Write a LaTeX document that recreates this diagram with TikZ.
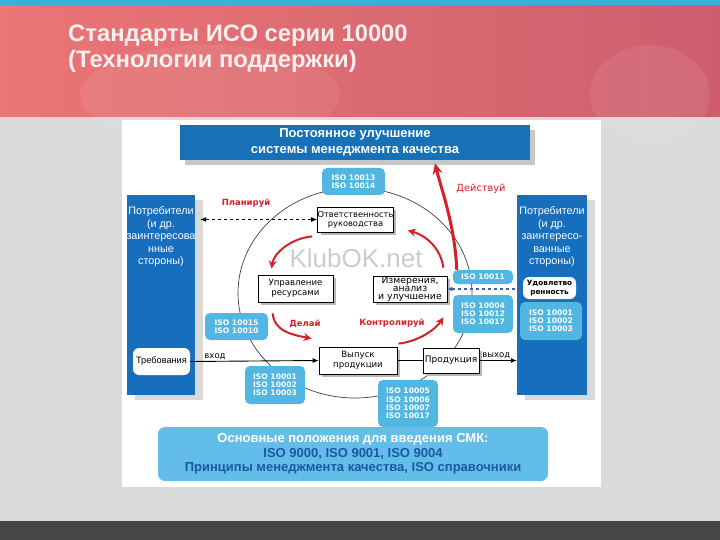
\documentclass[tikz,border=0pt]{standalone}
\usepackage{fontspec}
\setmainfont{Liberation Sans}
\newfontfamily\dvs{DejaVu Sans}
\usetikzlibrary{arrows.meta,shadows}
\definecolor{hdrblue}{RGB}{24,112,182}
\definecolor{panelblue}{RGB}{22,110,188}
\definecolor{isoblue}{RGB}{82,182,226}
\definecolor{botblue}{RGB}{98,190,232}
\definecolor{darkblue}{RGB}{28,88,162}
\definecolor{arrred}{RGB}{212,32,40}
\definecolor{pinkL}{RGB}{234,118,118}
\definecolor{pinkR}{RGB}{206,94,110}
\definecolor{bggray}{RGB}{218,218,218}
\definecolor{cyanstrip}{RGB}{56,176,216}
\definecolor{bandgray}{RGB}{70,70,70}
\definecolor{titlecol}{RGB}{250,238,238}
\definecolor{dashblue}{RGB}{60,100,170}
\begin{document}
\begin{tikzpicture}[x=1pt,y=-1pt,
  wbox/.style={draw=black, line width=0.8pt, fill=white, align=center,
    font=\dvs\fontsize{8.3}{9}\selectfont, inner sep=0pt,
    general shadow={fill=black!28, shadow xshift=3pt, shadow yshift=-3pt}},
  isobox/.style={fill=isoblue, rounded corners=5pt, text=white, align=center,
    font=\dvs\bfseries\fontsize{7.6}{8.2}\selectfont, inner sep=0pt},
  panel/.style={fill=panelblue, inner sep=0pt,
    general shadow={fill=black!15, shadow xshift=8pt, shadow yshift=-5pt}},
  ptext/.style={text=white, align=center, font=\fontsize{10.8}{12.5}\selectfont, inner sep=0pt},
  rlabel/.style={text=arrred, font=\dvs\bfseries\fontsize{8.5}{10}\selectfont},
  redarr/.style={draw=arrred, line width=2pt, -{Stealth[length=8pt,width=8pt]}},
  small/.style={font=\dvs\fontsize{8.5}{9}\selectfont}]
\useasboundingbox (0,0) rectangle (720,540);
% backgrounds
\fill[bggray] (0,117) rectangle (720,521);
\shade[left color=pinkL, right color=pinkR] (0,0) rectangle (720,117);
\fill[white, opacity=0.07] (210,95) ellipse [x radius=130pt, y radius=50pt];
\fill[white, opacity=0.07] (650,95) ellipse [x radius=60pt, y radius=50pt];
\fill[cyanstrip] (0,0) rectangle (720,5);
\fill[bandgray] (0,521) rectangle (720,540);
\fill[white] (122,120) rectangle (601,487);
% title
\node[anchor=base west, inner sep=0pt, text=titlecol, font=\bfseries\fontsize{23.8}{28}\selectfont] (t1) at (68,42) {Стандарты ИСО серии 10000};
\node[anchor=base west, inner sep=0pt, text=titlecol, font=\bfseries\fontsize{23.8}{28}\selectfont] (t2) at (68,68) {(Технологии поддержки)};
% header
\node[fill=hdrblue, minimum width=350pt, minimum height=35pt, text=white, align=center,
  font=\bfseries\fontsize{13}{16.5}\selectfont,
  general shadow={fill=black!22, shadow xshift=5pt, shadow yshift=-5pt}] (top) at (355,142.5)
  {Постоянное улучшение\\системы менеджмента качества};
% watermark
\node[text=black!20, font=\fontsize{26}{30}\selectfont] (wm) at (356,258) {KlubOK.net};
% cycle
\draw[black!75, line width=0.7pt] (355,293) ellipse [x radius=117pt, y radius=105pt];
% panels
\node[panel, minimum width=68pt, minimum height=200pt] (lp) at (161,295) {};
\node[ptext] (lpt) at (161,237) {Потребители\\(и др.\\заинтересова\\нные\\стороны)};
\node[fill=white, rounded corners=6pt, minimum width=57pt, minimum height=27pt, inner sep=0pt,
  font=\fontsize{9.2}{10}\selectfont] (req) at (161.5,361.5) {Требования};
\node[panel, minimum width=70pt, minimum height=200pt] (rp) at (552,295) {};
\node[ptext] (rpt) at (552,237) {Потребители\\(и др.\\заинтересо-\\ванные\\стороны)};
\node[fill=white, rounded corners=6pt, minimum width=53pt, minimum height=22pt, inner sep=0pt, align=center,
  font=\dvs\bfseries\fontsize{7.3}{9}\selectfont] (sat) at (549.5,288) {Удовлетво\\ренность};
\node[isobox, minimum width=62pt, minimum height=38pt] (riso) at (551,321) {ISO 10001\\ISO 10002\\ISO 10003};
% ISO boxes
\node[isobox, minimum width=63pt, minimum height=27pt] (iso13) at (353.5,181.5) {ISO 10013\\ISO 10014};
\node[isobox, minimum width=63pt, minimum height=27pt] (iso15) at (236.5,326.5) {ISO 10015\\ISO 10010};
\node[isobox, minimum width=60pt, minimum height=38pt] (iso01) at (275,385) {ISO 10001\\ISO 10002\\ISO 10003};
\node[isobox, minimum width=60pt, minimum height=47pt] (iso05) at (408,403.5) {ISO 10005\\ISO 10006\\ISO 10007\\ISO 10017};
\node[isobox, minimum width=60pt, minimum height=14pt] (iso11) at (483,277) {ISO 10011};
\node[isobox, minimum width=60pt, minimum height=38pt] (iso04) at (483,314) {ISO 10004\\ISO 10012\\ISO 10017};
% white boxes
\node[wbox, minimum width=75pt, minimum height=25pt] (resp) at (355.5,219.5) {Ответственность\\руководства};
\node[wbox, minimum width=75pt, minimum height=27pt, font=\dvs\fontsize{8.6}{10}\selectfont] (res) at (295.5,288.5) {Управление\\ресурсами};
\node[wbox, minimum width=74pt, minimum height=26pt, font=\dvs\fontsize{9.3}{8.4}\selectfont] (meas) at (410,289) {Измерения,\\анализ\\и улучшение};
\node[wbox, minimum width=78pt, minimum height=27pt, font=\dvs\fontsize{8.6}{10}\selectfont] (out) at (358,360.5) {Выпуск\\продукции};
\node[wbox, minimum width=56pt, minimum height=25pt, font=\dvs\fontsize{9}{10}\selectfont] (prod) at (451,360.5) {Продукция};
% bottom box
\node[fill=botblue, rounded corners=7pt, minimum width=390pt, minimum height=54pt, align=center,
  font=\bfseries\fontsize{13}{14.8}\selectfont] (bot) at (353,454)
  {\textcolor{white}{Основные положения для введения СМК:}\\
   \textcolor{darkblue}{ISO 9000, ISO 9001, ISO 9004}\\
   \textcolor{darkblue}{Принципы менеджмента качества, ISO справочники}};
% flow connectors
\draw[line width=0.9pt, -{Latex[length=6pt,width=5pt]}] (req.east) -- node[small, pos=0.1, anchor=south west, inner sep=1pt] (vin) {вход} (out.west);
\draw[line width=0.9pt] (out.east) -- (prod.west);
\draw[line width=0.9pt, -{Latex[length=6pt,width=5pt]}] (prod.east) -- node[small, pos=0.45, above, inner sep=1pt] (vout) {выход} (prod.east -| rp.west);
\draw[line width=0.9pt, dashed, {Latex[length=6pt,width=5pt]}-{Latex[length=6pt,width=5pt]}] ([xshift=5pt]lp.east |- resp.west) -- (resp.west);
\draw[dashblue, line width=1.1pt, dashed, {Latex[length=5pt,width=5pt]}-{Latex[length=5pt,width=5pt]}] (meas.east) -- (meas.east -| sat.west);
% PDCA arrows
\node[rlabel] (plan) at (246,203) {Планируй};
\draw[redarr] ([xshift=-5pt,yshift=-4pt]resp.south west) .. controls +(-22,2) and +(2,-15) .. ([xshift=14pt,yshift=6pt]res.north west);
\draw[redarr] ([xshift=15pt,yshift=-11pt]res.south west) .. controls +(2,18) and +(-20,-4) .. ([xshift=-7pt,yshift=8pt]out.north west);
\node[rlabel] (doit) at (305,324) {Делай};
\draw[redarr] ([xshift=1pt,yshift=3pt]out.north east) .. controls +(20,-2) and +(-8,12) .. ([xshift=-4pt,yshift=-15pt]meas.south east);
\node[rlabel] (check) at (392,323) {Контролируй};
\draw[redarr] ([xshift=-4pt,yshift=8pt]meas.north east) .. controls +(-3,-20) and +(18,5) .. ([xshift=14pt,yshift=2pt]resp.south east);
\draw[draw=arrred, line width=3pt, -{Stealth[length=11pt,width=10pt]}] ([xshift=4pt]iso11.north west) .. controls +(-2,-45) and +(6,25) .. ([xshift=80pt,yshift=-3pt]top.south);
\node[text=arrred, font=\dvs\fontsize{9.8}{12}\selectfont] (act) at (481,189) {Действуй};
\end{tikzpicture}
\end{document}
